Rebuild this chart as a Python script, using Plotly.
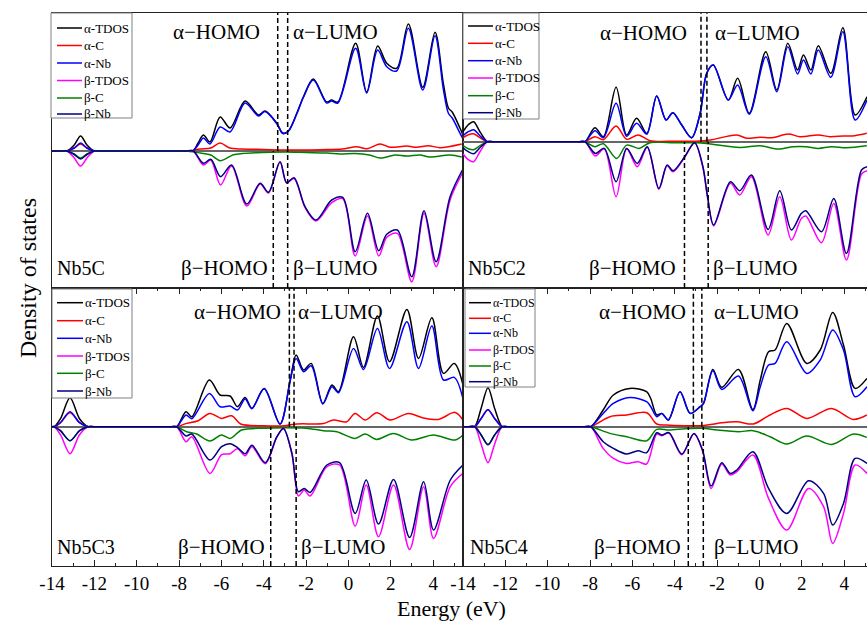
import plotly.graph_objects as go

W, H = 867, 623
FONT = "Liberation Serif, Times New Roman, serif"

# ---------------- Nb5C (top-left) ----------------
nb5c_e_a = [-14, -13.6, -13.3, -12.95, -12.65, -12.35, -12.0, -11.7, -7.7, -7.35, -7.1, -6.85, -6.54, -6.06, -5.59,
            -4.88, -4.25, -3.94, -3.39, -3.1, -2.84, -2.44, -2.13, -1.66, -1.03, -0.8, -0.5, 0.34, 0.86, 1.38, 1.81,
            2.28, 2.83, 3.51, 4.09, 4.48, 4.72, 4.9, 5.27, 5.41]
nb5c_a_tdos = [0, 0, 0, 6, 15, 6, 0, 0, 0, 0, 8, 16, 9, 34, 23, 50, 36, 40, 28, 18, 20, 37.7, 54, 72, 49, 51, 49,
               107.7, 59, 105, 87.7, 82.7, 127, 63.7, 118.7, 67.7, 43, 39, 22.7, 16]
nb5c_a_nb = [0, 0, 0, 3, 8, 3, 0, 0, 0, 0, 6, 13, 7, 24, 19, 48, 35, 39.5, 27.5, 17.5, 19.5, 37, 53.5, 71, 48, 50,
             48, 102.7, 58, 101, 84.3, 80, 122.7, 61, 115.3, 62, 37.7, 33, 17.7, 12]
nb5c_e_ac = [-14, -13.6, -13.3, -12.95, -12.65, -12.35, -12.0, -11.7, -7.9, -7.6, -7.0, -6.5, -6.06, -5.6, -5.0,
             -4.0, -3.0, -2.0, -1.0, -0.3, 0.39, 0.87, 1.5, 1.97, 2.75, 3.22, 3.78, 4.33, 5.35]
nb5c_a_c = [0, 0, 0, 3, 7, 3, 0, 0, 0, 0, 2, 3, 8, 3, 2, 1.5, 1, 1, 1.5, 2, 4.3, 2.3, 7, 3.7, 5, 3.7, 5.3, 3.3, 7]
nb5c_e_bc = [-14, -13.6, -13.3, -12.95, -12.65, -12.35, -12.0, -11.7, -7.9, -7.6, -7.0, -6.5, -6.06, -5.43, -5.0,
             -4.0, -3.0, -2.0, -1.0, -0.4, 0.3, 0.99, 1.5, 2.21, 2.75, 3.38, 3.85, 4.8, 5.35]
nb5c_b_c = [0, 0, 0, -3, -7, -3, 0, 0, 0, 0, -2, -4, -9.7, -3.7, -2.5, -1.5, -1, -1.5, -2, -3, -2.5, -4, -7, -4, -5,
            -4, -6, -4, -6]
nb5c_e_b = [-14, -13.6, -13.3, -12.95, -12.65, -12.35, -12.0, -11.7, -7.7, -7.33, -6.85, -6.5, -6.04, -5.52, -4.8,
            -4.17, -3.78, -3.23, -2.92, -2.57, -2.05, -1.53, -0.79, -0.27, 0.32, 0.9, 1.43, 1.81, 2.31, 2.99, 3.57,
            4.14, 4.8, 5.41]
nb5c_b_tdos = [0, 0, 0, -7, -15, -7, 0, 0, 0, 0, -14, -9, -34, -15, -55, -33, -42, -11, -32, -27.5, -56.5, -70,
               -51.7, -47.5, -105, -65, -105, -86.3, -82.3, -130.7, -62.3, -115.7, -49, -21]
nb5c_b_nb = [0, 0, 0, -3.5, -8, -3.5, 0, 0, 0, 0, -12.3, -8.3, -25.7, -14, -53, -32.3, -41.3, -10.7, -31.7, -26.7,
             -55.7, -69, -49, -46.3, -100.7, -62.3, -99.7, -83.3, -79, -125.7, -59.7, -110.7, -45.7, -18]

# ---------------- Nb5C2 (top-right) ----------------
nb5c2_e_a = [-14, -13.75, -13.5, -13.2, -12.85, -12.55, -8.55, -8.24, -7.77, -7.37, -6.77, -6.27, -5.8, -5.32, -4.85,
             -4.41, -4.09, -3.67, -3.2, -2.8, -2.49, -2.18, -1.47, -1.03, -0.48, 0.3, 0.82, 1.34, 1.8, 2.08, 2.43,
             2.78, 3.37, 3.94, 4.52, 5.08]
nb5c2_a_tdos = [10, 17, 20, 10, 0, 0, 0, 0, 14, 5, 54.4, 6.7, 23.4, 8.4, 45.7, 21.7, 29, 16.7, 4, 28.4, 68.4, 76.7,
                41.7, 63.4, 28.4, 90, 51.7, 98.4, 71.7, 86.7, 71.7, 96, 68.4, 114, 26.7, 45]
nb5c2_a_nb = [6, 10, 12, 6, 0, 0, 0, 0, 11, 4, 38.4, 5.5, 18.4, 7.5, 45.7, 21.7, 29, 16.7, 4, 28.4, 68.4, 76.7, 41.7,
              56.7, 27.5, 85, 50, 95, 67.7, 81.7, 67.7, 91.7, 64.4, 110, 21.7, 41.7]
nb5c2_e_ac = [-14, -13.75, -13.5, -13.2, -12.85, -12.55, -8.55, -8.24, -7.77, -7.37, -6.77, -6.27, -5.72, -5.17, -4.0,
              -3.0, -2.33, -1.07, -0.6, 0.03, 0.6, 1.37, 1.92, 2.78, 3.33, 3.97, 4.5, 5.07]
nb5c2_a_c = [4, 7, 8, 4, 0, 0, 0, 0, 5, 2, 15.7, 2.4, 6.7, 1, 0.5, 0.5, 1.7, 6.7, 3.4, 4.4, 4, 7.7, 5, 6.7, 5, 5.7,
             6, 8.4]
nb5c2_e_bc = [-14, -13.75, -13.5, -13.2, -12.85, -12.55, -8.55, -8.24, -7.77, -7.37, -6.74, -6.27, -5.68, -5.17, -4.0,
              -3.0, -2.49, -0.92, 0.03, 0.9, 1.6, 2.2, 2.78, 3.4, 4.12, 5.07]
nb5c2_b_c = [-4, -7, -8, -4, 0, 0, 0, 0, -5, -2, -16.7, -3.4, -6.7, -1, -1, -1, -1.7, -5.7, -4, -7.4, -5, -5, -6.7,
             -5, -6, -4]
nb5c2_e_b = [-14, -13.75, -13.5, -13.2, -12.85, -12.55, -8.55, -8.24, -7.75, -7.33, -6.77, -6.27, -5.77, -5.3, -4.75,
             -4.36, -4.08, -3.53, -3.06, -2.67, -2.45, -2.16, -1.37, -0.93, -0.38, 0.41, 0.96, 1.51, 1.98, 2.19,
             2.93, 3.51, 4.11, 4.82, 5.08]
nb5c2_b_tdos = [-12, -18, -20, -10, 0, 0, 0, 0, -14.3, -7, -55, -7, -25, -5.5, -47.5, -24, -30, -15.5, -1, -25.5,
                -56, -84, -41.6, -53.3, -35, -93.3, -55, -98.3, -76.7, -74.3, -101, -61.7, -118.3, -32.3, -29]
nb5c2_b_nb = [-6, -10, -12, -6, 0, 0, 0, 0, -11.7, -6.7, -40, -6.7, -21.7, -5, -46.7, -23.4, -29, -15, -1, -25, -55,
              -83.3, -40, -49, -33.3, -87.7, -49, -88.3, -71.7, -69, -90, -56.7, -111.7, -28.3, -25]

# ---------------- Nb5C3 (bottom-left) ----------------
nb5c3_e_a = [-14, -13.9, -13.6, -13.15, -12.7, -12.3, -12.0, -8.4, -8.11, -7.67, -7.4, -6.57, -6.06, -5.59, -5.24,
             -4.88, -4.56, -3.98, -3.23, -2.75, -2.47, -2.12, -1.76, -1.21, -0.78, -0.47, 0.24, 0.71, 1.37, 1.94,
             2.76, 3.31, 3.94, 4.49, 5.0, 5.41]
nb5c3_a_tdos = [0, 0, 8, 29, 8, 0, 0, 0, 0, 15, 10, 46.7, 31.7, 30.7, 20, 29.3, 18.3, 38.3, 2.7, 46.7, 71.7, 56.7,
                63.3, 23.3, 41.7, 35, 90, 59.3, 110.7, 65, 117.3, 68.3, 109, 53.3, 63.3, 42]
nb5c3_a_nb = [0, 0, 4, 15, 4, 0, 0, 0, 0, 11.7, 8, 33.3, 20, 20.7, 16.7, 27.7, 18, 38, 2.7, 46, 68.3, 55, 61, 22.7,
              40, 34, 78.3, 57.3, 98.3, 58.3, 105, 58.3, 100.7, 46.7, 49.3, 28]
nb5c3_e_ac = [-14, -13.9, -13.6, -13.15, -12.7, -12.3, -12.0, -8.4, -8.11, -7.64, -7.1, -6.54, -6.0, -5.51, -5.09,
              -4.0, -3.0, -2.44, -1.18, -0.71, -0.08, 0.31, 0.79, 1.34, 1.97, 2.83, 3.5, 4.25, 5.04, 5.41]
nb5c3_a_c = [0, 0, 4, 14, 4, 0, 0, 0, 0, 3.3, 6, 13.3, 8.3, 11, 2.7, 1, 1, 2.7, 3.3, 6.7, 5, 13.3, 6.7, 14, 6.7,
             13.3, 9, 7.3, 14.3, 6.7]
nb5c3_e_bc = [-14, -13.9, -13.6, -13.15, -12.7, -12.3, -12.0, -8.4, -8.11, -7.64, -7.17, -6.54, -6.0, -5.59, -5.04,
              -4.0, -3.0, -2.0, -1.18, -0.55, 0.31, 0.79, 1.34, 2.12, 2.99, 4.01, 5.04, 5.41]
nb5c3_b_c = [0, 0, -4, -14, -4, 0, 0, 0, 0, -5, -7.3, -14.3, -8.3, -11.7, -3.3, -1.5, -1, -1.5, -4, -5, -11.7, -7.3,
             -12.7, -6.7, -13.3, -8.3, -13.3, -8.3]
nb5c3_e_b = [-14, -13.9, -13.6, -13.15, -12.7, -12.3, -12.0, -8.4, -8.11, -7.67, -7.4, -6.54, -5.99, -5.59, -5.24,
             -4.88, -4.56, -3.93, -3.38, -3.07, -2.67, -2.36, -2.09, -1.81, -1.02, -0.42, 0.32, 0.84, 1.42, 2.13,
             2.89, 3.55, 4.02, 4.81, 5.41]
nb5c3_b_tdos = [0, 0, -8, -27, -8, 0, 0, 0, 0, -15, -10, -46.7, -28, -27, -22, -29, -20, -37, -10.5, -1.7, -27,
                -69.3, -63.3, -69.3, -40, -38.3, -99.3, -58.3, -110, -58.3, -122.7, -60, -111.7, -60, -46.7]
nb5c3_b_nb = [0, 0, -4, -14, -4, 0, 0, 0, 0, -9.3, -7.3, -33.3, -20, -17, -21, -27, -18.5, -36, -10, -1.7, -26.7,
              -65, -61.7, -65.7, -38.3, -36, -86.7, -53.3, -97.3, -52.7, -110.7, -55, -103.3, -53.3, -38.3]

# ---------------- Nb5C4 (bottom-right) ----------------
nb5c4_e_a = [-14, -13.75, -13.45, -13.15, -12.82, -12.5, -12.15, -11.85, -8.3, -7.97, -7.38, -6.9, -6.12, -5.33,
             -5.13, -4.85, -4.61, -4.3, -3.75, -3.27, -2.8, -2.64, -2.2, -1.78, -0.99, -0.31, 0.04, 0.43, 0.74, 1.29,
             2.24, 2.87, 3.46, 3.97, 4.52, 5.08]
nb5c4_a_tdos = [0, 0, 0, 18, 39, 18, 0, 0, 0, 0, 16.7, 31.7, 38.3, 35, 28, 11.7, 13.3, 6.7, 35, 13.3, 20, 23.3, 57.3,
                39.3, 57.3, 17.3, 46.7, 75, 76.7, 103.3, 63.3, 76.7, 114.3, 81.7, 38.3, 48.3]
nb5c4_a_nb = [0, 0, 0, 8, 17, 8, 0, 0, 0, 0, 13.3, 23.3, 29.3, 25, 20, 10, 13.3, 6.7, 35, 13.3, 20, 23.3, 56, 37.3,
              50.7, 16, 40, 61.7, 63.3, 85, 53.3, 66.7, 96.7, 76.7, 30, 40]
nb5c4_e_ac = [-14, -13.75, -13.45, -13.15, -12.82, -12.5, -12.15, -11.85, -8.3, -7.97, -7.06, -6.27, -5.32, -4.85,
              -4.38, -3.5, -2.7, -2.0, -1.07, -0.29, 0.5, 1.29, 2.24, 3.4, 4.44, 5.07]
nb5c4_a_c = [0, 0, 0, 8, 17, 8, 0, 0, 0, 0, 10, 11.7, 14, 2.7, 1.7, 1, 1, 3.3, 5, 2.7, 11.7, 18.3, 8.3, 18.3, 7.3,
             11.7]
nb5c4_e_bc = [-14, -13.75, -13.45, -13.15, -12.82, -12.5, -12.15, -11.85, -8.3, -7.97, -7.06, -6.27, -5.32, -4.85,
              -4.27, -3.5, -2.7, -2.0, -1.0, -0.29, 0.5, 1.29, 2.24, 3.4, 4.44, 5.07]
nb5c4_b_c = [0, 0, 0, -8, -18, -8, 0, 0, 0, 0, -6.7, -10, -14, -2.7, -3.3, -2, -1.5, -3.3, -5, -4, -10, -17.3, -9.3,
             -17.7, -7.3, -10.7]
nb5c4_e_b = [-14, -13.75, -13.45, -13.15, -12.82, -12.5, -12.15, -11.85, -8.3, -7.97, -7.38, -6.9, -6.28, -5.73,
             -5.33, -4.85, -4.61, -4.27, -3.67, -3.09, -2.69, -2.28, -1.78, -1.38, -1.07, -0.31, 0.43, 1.29, 2.32,
             3.03, 3.46, 3.97, 4.52, 5.08]
nb5c4_b_tdos = [0, 0, 0, -17, -36, -17, 0, 0, 0, 0, -21.7, -31.7, -36.7, -35, -37.3, -7.3, -9, -6.5, -28, -7, -24,
                -61.7, -37.3, -48.3, -45, -28.3, -71.7, -103.3, -61.7, -80, -116.7, -86.7, -38.3, -46.7]
nb5c4_b_nb = [0, 0, 0, -8, -18, -8, 0, 0, 0, 0, -15, -21.7, -27.3, -24, -26, -6, -8.3, -6, -27.3, -6.7, -23.3, -59.3,
              -36, -46.7, -43.3, -25, -61.7, -86.7, -54, -66.7, -98.3, -76.7, -31.7, -36.7]

# ---------------- shared labels / levels ----------------
panel_names = ["Nb5C", "Nb5C2", "Nb5C3", "Nb5C4"]
series_names = ["α-TDOS", "α-C", "α-Nb", "β-TDOS", "β-C", "β-Nb"]
series_colors = ["#000000", "#ff0000", "#0000ff", "#ff00ff", "#008000", "#000080"]
homo_alpha = [-3.34, -2.76, -2.79, -3.12]
lumo_alpha = [-2.87, -2.48, -2.57, -2.72]
homo_beta = [-3.55, -3.54, -3.67, -3.36]
lumo_beta = [-2.87, -2.42, -2.47, -2.65]
x_ticks = [-14, -12, -10, -8, -6, -4, -2, 0, 2, 4]
x_tick_labels = ["-14", "-12", "-10", "-8", "-6", "-4", "-2", "0", "2", "4"]

panels = [
    (nb5c_e_a, nb5c_a_tdos, nb5c_a_nb, nb5c_e_ac, nb5c_a_c, nb5c_e_bc, nb5c_b_c, nb5c_e_b, nb5c_b_tdos, nb5c_b_nb),
    (nb5c2_e_a, nb5c2_a_tdos, nb5c2_a_nb, nb5c2_e_ac, nb5c2_a_c, nb5c2_e_bc, nb5c2_b_c, nb5c2_e_b, nb5c2_b_tdos, nb5c2_b_nb),
    (nb5c3_e_a, nb5c3_a_tdos, nb5c3_a_nb, nb5c3_e_ac, nb5c3_a_c, nb5c3_e_bc, nb5c3_b_c, nb5c3_e_b, nb5c3_b_tdos, nb5c3_b_nb),
    (nb5c4_e_a, nb5c4_a_tdos, nb5c4_a_nb, nb5c4_e_ac, nb5c4_a_c, nb5c4_e_bc, nb5c4_b_c, nb5c4_e_b, nb5c4_b_tdos, nb5c4_b_nb),
]

# ---------------- geometry (pixels) ----------------
def px(x):
    return x / W

def py(y):
    return 1 - y / H

x_dom = [[px(52), px(463)], [px(463), 1.0], [px(52), px(463)], [px(463), 1.0]]
y_dom = [[py(288), py(13)], [py(288), py(13)], [py(566), py(288)], [py(566), py(288)]]
x_rng = [[-14, 5.41], [-14, 5.08], [-14, 5.41], [-14, 5.08]]
y_rng = [[-137, 138], [-146.3, 128.7], [-139.3, 138.7], [-139.3, 138.7]]

fig = go.Figure()

for i, p in enumerate(panels):
    ea, at, an, eac, ac, ebc, bc, eb, bt, bn = p
    xs = "x" if i == 0 else f"x{i+1}"
    ys = "y" if i == 0 else f"y{i+1}"
    data = [(ea, at), (eac, ac), (ea, an), (eb, bt), (ebc, bc), (eb, bn)]
    for k, (ex, vy) in enumerate(data):
        fig.add_trace(go.Scatter(
            x=ex, y=vy, mode="lines", name=series_names[k],
            line=dict(color=series_colors[k], width=1.5, shape="spline", smoothing=0.9),
            xaxis=xs, yaxis=ys, showlegend=False, hoverinfo="skip", cliponaxis=True))

layout = dict(
    width=W, height=H, margin=dict(l=0, r=0, t=0, b=0, pad=0, autoexpand=False),
    paper_bgcolor="white", plot_bgcolor="white",
    font=dict(family=FONT, color="black"),
    showlegend=False,
)
for i in range(4):
    xn = "xaxis" if i == 0 else f"xaxis{i+1}"
    yn = "yaxis" if i == 0 else f"yaxis{i+1}"
    bottom = i >= 2
    xa = dict(domain=x_dom[i], range=x_rng[i], anchor="y" if i == 0 else f"y{i+1}",
              showgrid=False, zeroline=False, showline=True, mirror=True, automargin=False,
              linecolor="#222", linewidth=1.3)
    if bottom:
        xa.update(tickmode="array", tickvals=x_ticks, ticktext=x_tick_labels,
                  ticks="inside", ticklen=6, tickwidth=1.2, tickcolor="#222",
                  mirror="ticks", ticklabelstandoff=0,
                  tickfont=dict(family=FONT, size=19, color="black"),
                  minor=dict(dtick=1, ticks="inside", ticklen=3, tickwidth=1, tickcolor="#222"))
    else:
        xa.update(showticklabels=False, ticks="")
    ya = dict(domain=y_dom[i], range=y_rng[i], anchor="x" if i == 0 else f"x{i+1}",
              showgrid=False, showticklabels=False, ticks="", automargin=False,
              zeroline=True, zerolinecolor="#666", zerolinewidth=1.5,
              showline=True, mirror=True, linecolor="#222", linewidth=1.3)
    layout[xn] = xa
    layout[yn] = ya
fig.update_layout(**layout)

shapes = []
annotations = []
dash = "5px,3px"
for i in range(4):
    xr = "x" if i == 0 else f"x{i+1}"
    yr = "y" if i == 0 else f"y{i+1}"
    lo, hi = y_rng[i]
    for e, y0, y1 in [(homo_alpha[i], 0, hi), (lumo_alpha[i], 0, hi),
                      (homo_beta[i], lo, 0), (lumo_beta[i], lo, 0)]:
        shapes.append(dict(type="line", xref=xr, yref=yr, x0=e, x1=e, y0=y0, y1=y1,
                           line=dict(color="black", width=1.5, dash=dash), layer="above"))

# level labels (pixel positions)
label_pos = [
    [(216, 32), (335, 32), (225, 268), (335, 268)],
    [(643, 33), (757, 33), (632, 268), (755, 268)],
    [(237, 312), (340, 312), (222, 547), (343, 547)],
    [(642, 312), (756, 312), (637, 547), (756, 547)],
]
label_txt = ["α−HOMO", "α−LUMO", "β−HOMO", "β−LUMO"]
for i in range(4):
    for (lx, ly), t in zip(label_pos[i], label_txt):
        annotations.append(dict(text=t, x=px(lx), y=py(ly), xref="paper", yref="paper",
                                showarrow=False, xanchor="center", yanchor="middle",
                                font=dict(family=FONT, size=21, color="black")))

# panel names
name_pos = [(55, 268), (466, 268), (55, 547), (468, 547)]
for (nx, ny), t in zip(name_pos, panel_names):
    annotations.append(dict(text=t, x=px(nx), y=py(ny), xref="paper", yref="paper",
                            showarrow=False, xanchor="left", yanchor="middle",
                            font=dict(family=FONT, size=20, color="black")))

# legends (drawn boxes)
leg_box = [(51, 13, 132, 118), (463, 13, 539, 119), (52, 289, 132, 398), (465, 289, 535, 387)]
leg_line = [(57, 82), (468, 493), (57, 83), (469, 491)]
leg_rows = [[28, 45.5, 63, 80.5, 98, 114], [26, 43.3, 60.7, 78, 95.7, 112.7],
            [302.7, 320.7, 338.3, 356, 373.3, 391], [302.7, 318.3, 333.3, 350, 366, 381.7]]
leg_font = [13, 13, 13, 12]
for i in range(4):
    x0, y0, x1, y1 = leg_box[i]
    shapes.append(dict(type="rect", xref="paper", yref="paper", x0=px(x0), x1=px(x1), y0=py(y1), y1=py(y0),
                       line=dict(color="#808080", width=1), fillcolor="white", layer="above"))
    lx0, lx1 = leg_line[i]
    for k, ry in enumerate(leg_rows[i]):
        shapes.append(dict(type="line", xref="paper", yref="paper", x0=px(lx0), x1=px(lx1), y0=py(ry), y1=py(ry),
                           line=dict(color=series_colors[k], width=1.5), layer="above"))
        annotations.append(dict(text=series_names[k], x=px(lx1), y=py(ry), xref="paper", yref="paper",
                                showarrow=False, xanchor="left", yanchor="middle",
                                font=dict(family=FONT, size=leg_font[i], color="black")))

# axis titles
annotations.append(dict(text="Density of states", x=px(28), y=py(278), xref="paper", yref="paper",
                        showarrow=False, textangle=-90, xanchor="center", yanchor="middle",
                        font=dict(family=FONT, size=24, color="black")))
annotations.append(dict(text="Energy (eV)", x=px(452), y=py(608), xref="paper", yref="paper",
                        showarrow=False, xanchor="center", yanchor="middle",
                        font=dict(family=FONT, size=22, color="black")))

fig.update_layout(shapes=shapes, annotations=annotations)
fig.write_html("out.html")
